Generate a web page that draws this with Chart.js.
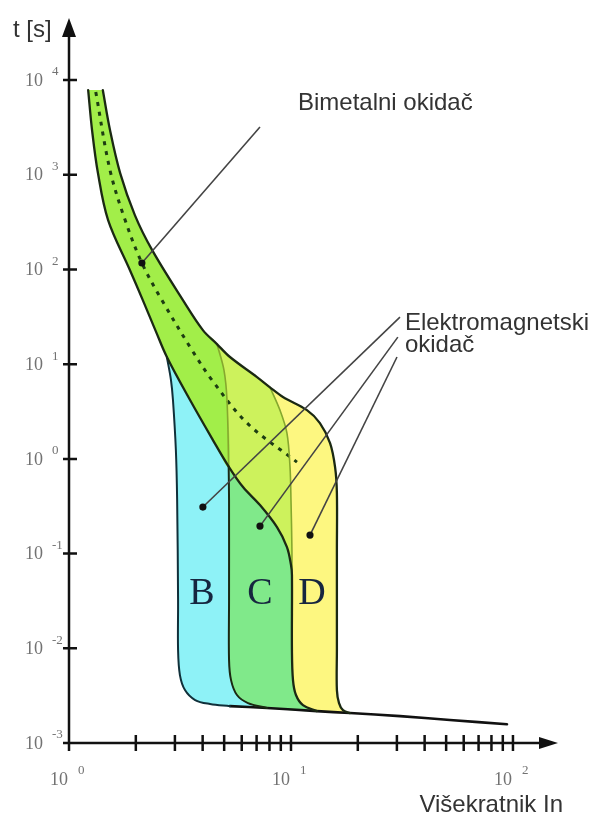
<!DOCTYPE html>
<html>
<head>
<meta charset="utf-8">
<title>Karakteristike prekidača B, C, D</title>
<script src="https://cdn.jsdelivr.net/npm/chart.js@4.4.1/dist/chart.umd.min.js"></script>
<style>
  html, body { margin: 0; padding: 0; background: #fff; }
  #wrap { width: 597px; height: 818px; }
</style>
</head>
<body>
<div id="wrap"><canvas id="tripChart" width="597" height="818"></canvas></div>
<script>
// all curves are [I/In, t in seconds]

// thermal band, upper edge (max trip time), split where the C and D lines start
const uTop = [[1.42, 7840], [1.53, 2965], [1.70, 1042], [1.98, 375], [2.37, 160], [3.26, 47.5], [4.01, 22.9], [4.64, 16.3]];
const uMid = [[4.64, 16.3], [5.31, 11.9], [7.03, 7.31], [8.04, 5.7]];
const uEnd = [[8.04, 5.7], [9.2, 4.5], [11.8, 3.27], [13.5, 2.39], [15.0, 1.47], [15.8, 0.819], [16.1, 0.436],
              [16.1, 0.109], [16.1, 0.0096], [16.1, 0.00362], [16.46, 0.00264], [17.15, 0.00222], [18.45, 0.00207]];

// thermal band, lower edge (min trip time)
const lTop = [[1.22, 7840], [1.27, 2965], [1.35, 1042], [1.50, 332], [1.88, 98.6], [2.15, 47.5], [2.47, 21.8], [2.76, 11.9]];
const lMid = [[2.76, 11.9], [3.51, 4.18], [4.45, 1.58], [5.24, 0.83]];
const lEnd = [[5.24, 0.83], [6.08, 0.504], [7.25, 0.325], [8.65, 0.19], [9.59, 0.117], [10.0, 0.076], [10.1, 0.0593]];

// magnetic trip limits
const bLow = [[2.76, 11.9], [2.88, 6.79], [2.94, 4.18], [3.03, 1.24], [3.07, 0.367], [3.10, 0.0323], [3.10, 0.00957],
              [3.16, 0.00521], [3.33, 0.00362], [3.70, 0.00284], [4.32, 0.00258], [5.31, 0.00245]];
const cTop = [[4.64, 16.3], [4.99, 8.67], [5.15, 4.18], [5.24, 0.83]];
const cLow = [[5.24, 0.83], [5.26, 0.367], [5.26, 0.0323], [5.26, 0.0075], [5.37, 0.00461], [5.71, 0.00321],
              [6.40, 0.00264], [7.80, 0.00234]];
const dTop = [[8.04, 5.7], [8.92, 3.27], [9.59, 1.87], [9.90, 0.819], [10.0, 0.367], [10.1, 0.109], [10.1, 0.0593]];
const dLow = [[10.1, 0.0593], [10.1, 0.00957], [10.21, 0.00461], [10.53, 0.00321], [11.32, 0.00251], [13.09, 0.00217]];

// common bottom (instantaneous trip)
const base = [[5.31, 0.00245], [7.80, 0.00234], [13.09, 0.00217], [18.45, 0.00207], [31.0, 0.00192], [52.0, 0.00175], [94.0, 0.00158]];

// middle of the bimetal band
const bimetalMid = [[1.32, 7470], [1.53, 1120], [1.79, 332], [2.13, 117], [2.62, 47.5], [3.58, 14.1], [4.41, 6.79], [6.34, 2.39], [10.64, 0.925]];

// pointer lines: [dot, end]
const bimetalLead = [[2.13, 117], [7.25, 3190]];
const magneticLeads = [
  [[4.01, 0.31], [30.97, 31.4]],
  [[7.25, 0.195], [30.3, 19.3]],
  [[12.18, 0.157], [30.03, 11.9]]
];

const notes = [
  ['Bimetalni okidač', 10.75, 5710],
  ['Elektromagnetski', 32.6, 27.2],
  ['okidač', 32.6, 15.9]
];
const typeNames = ['B', 'C', 'D'];
const typeLabelAt = [[3.97, 0.0373], [7.25, 0.0373], [12.43, 0.0373]];

const yDecades = [-3, -2, -1, 0, 1, 2, 3, 4];
const xDecades = [0, 1, 2];
const xTickValues = [2, 3, 4, 5, 6, 7, 8, 9, 10, 20, 30, 40, 50, 60, 70, 80, 90, 100];

const xy = arr => arr.map(([x, y]) => ({x, y}));
const rev = arr => arr.slice().reverse();
function join(...parts) {
  const out = [];
  parts.forEach(p => p.forEach(pt => {
    const last = out[out.length - 1];
    if (!last || last[0] !== pt[0] || last[1] !== pt[1]) out.push(pt);
  }));
  return out;
}

const TENSION = 0.35;
const DARK = '#1b2913';
const OLIVE = '#86a82e';

function region(points, color, order) {
  return { data: xy(points), region: color, order: order || 9, pointRadius: 0, borderWidth: 0, tension: TENSION };
}
function curve(points, color, width, extra) {
  return Object.assign({ data: xy(points), borderColor: color, borderWidth: width, pointRadius: 0,
    tension: TENSION, order: 2, borderJoinStyle: 'round', borderCapStyle: 'round' }, extra || {});
}
function lead(points) {
  return { data: xy(points), borderColor: '#444', borderWidth: 1.6, tension: 0, order: 0,
    pointRadius: [3.6, 0], pointBackgroundColor: '#111', pointBorderColor: '#111', pointBorderWidth: 0 };
}

const datasets = [
  // filled areas
  region(join(uTop, uMid, uEnd, rev(base.slice(0, 4)), rev(bLow), rev(lTop)), '#c8f05a', 10),
  region(join(uTop, cTop, rev(lMid), rev(lTop)), '#a2ee49'),
  region(join(uMid, dTop, rev(lEnd), rev(cTop)), '#cdf25c'),
  region(join(bLow, base.slice(0, 2), rev(cLow), rev(lMid)), '#8ef2f7'),
  region(join(lEnd, dLow, rev(base.slice(1, 3)), rev(cLow)), '#80e98a'),
  region(join(dTop, dLow, base.slice(2, 4), rev(uEnd)), '#fdf780'),
  // outlines
  curve(join(uTop, uMid, uEnd), DARK, 2.3),
  curve(join(lTop, lMid, lEnd, dLow), DARK, 2.3),
  curve(bLow, '#10303a', 2),
  curve(cLow, DARK, 2),
  curve(cTop, OLIVE, 1.6),
  curve(dTop, OLIVE, 1.6),
  curve(base, '#111', 2.6),
  curve(bimetalMid, '#1d3d12', 3, { borderDash: [4, 6], order: 3, borderCapStyle: 'butt' }),
  // pointers
  lead(bimetalLead),
  ...magneticLeads.map(lead)
];

// areas: fill the closed outline of the dataset instead of stroking it
const regionFill = {
  id: 'regionFill',
  beforeDatasetDraw(chart, args) {
    const ds = chart.data.datasets[args.index];
    if (!ds.region) return;
    const line = args.meta.dataset;
    const ctx = chart.ctx;
    line.updateControlPoints(chart.chartArea, 'x');
    ctx.save();
    ctx.beginPath();
    line.path(ctx);
    ctx.closePath();
    ctx.fillStyle = ds.region;
    ctx.fill();
    ctx.restore();
    return false;
  }
};

function power(ctx, px, py, exp, align) {
  ctx.font = '18px "Liberation Serif"';
  ctx.textAlign = 'right';
  ctx.fillText('10', px, py);
  ctx.font = '13px "Liberation Serif"';
  ctx.textAlign = 'left';
  ctx.fillText(String(exp), px + align, py - 9);
}

// arrows, ticks and labels of both axes
const logAxes = {
  id: 'logAxes',
  beforeDatasetsDraw(chart) {
    const {ctx, scales: {x, y}} = chart;
    const x0 = x.getPixelForValue(1);
    const y0 = y.getPixelForValue(0.001);
    const xTip = x.right, yTip = y.top;
    ctx.save();
    ctx.strokeStyle = '#111';
    ctx.fillStyle = '#111';
    ctx.lineWidth = 2.5;
    ctx.beginPath();
    ctx.moveTo(x0, y0 + 8); ctx.lineTo(x0, yTip + 12);
    ctx.moveTo(x0, y0); ctx.lineTo(xTip - 12, y0);
    yDecades.forEach(e => {
      const py = y.getPixelForValue(Math.pow(10, e));
      ctx.moveTo(x0 - 6, py); ctx.lineTo(x0 + 8, py);
    });
    xTickValues.forEach(v => {
      const px = x.getPixelForValue(v);
      ctx.moveTo(px, y0 - 8); ctx.lineTo(px, y0 + 8);
    });
    ctx.stroke();
    ctx.beginPath();
    ctx.moveTo(x0, yTip - 2); ctx.lineTo(x0 - 7, yTip + 17); ctx.lineTo(x0 + 7, yTip + 17); ctx.closePath();
    ctx.moveTo(xTip + 1, y0); ctx.lineTo(xTip - 18, y0 - 6); ctx.lineTo(xTip - 18, y0 + 6); ctx.closePath();
    ctx.fill();

    ctx.fillStyle = '#727272';
    ctx.textBaseline = 'middle';
    yDecades.forEach(e => {
      const py = y.getPixelForValue(Math.pow(10, e));
      power(ctx, x0 - 26, py + 1, e, 9);
    });
    xDecades.forEach(e => {
      const px = x.getPixelForValue(Math.pow(10, e));
      power(ctx, px - 1, y0 + 37, e, 10);
    });

    ctx.fillStyle = '#333';
    ctx.font = '24px "Liberation Sans"';
    ctx.textAlign = 'left';
    ctx.fillText('t [s]', x0 - 56, yTip + 10);
    ctx.textAlign = 'right';
    ctx.fillText('Višekratnik In', xTip + 6, y0 + 62);
    ctx.restore();
  },
  afterDatasetsDraw(chart) {
    const {ctx, scales: {x, y}} = chart;
    ctx.save();
    ctx.textBaseline = 'middle';
    ctx.fillStyle = '#333';
    ctx.font = '24px "Liberation Sans"';
    ctx.textAlign = 'left';
    notes.forEach(([text, vx, vy]) => ctx.fillText(text, x.getPixelForValue(vx), y.getPixelForValue(vy)));
    ctx.fillStyle = '#16263f';
    ctx.font = '38px "Liberation Serif"';
    ctx.textAlign = 'center';
    typeNames.forEach((name, i) => {
      const [vx, vy] = typeLabelAt[i];
      ctx.fillText(name, x.getPixelForValue(vx), y.getPixelForValue(vy));
    });
    ctx.restore();
  }
};

new Chart(document.getElementById('tripChart'), {
  type: 'line',
  data: { datasets },
  options: {
    responsive: false,
    devicePixelRatio: 1,
    animation: false,
    layout: { padding: { left: 69, right: 40, top: 20, bottom: 75 } },
    scales: {
      x: { type: 'logarithmic', min: 1, max: 157.9, display: false },
      y: { type: 'logarithmic', min: 0.001, max: 43050, display: false }
    },
    plugins: {
      legend: { display: false },
      tooltip: { enabled: false }
    }
  },
  plugins: [regionFill, logAxes]
});
</script>
</body>
</html>
